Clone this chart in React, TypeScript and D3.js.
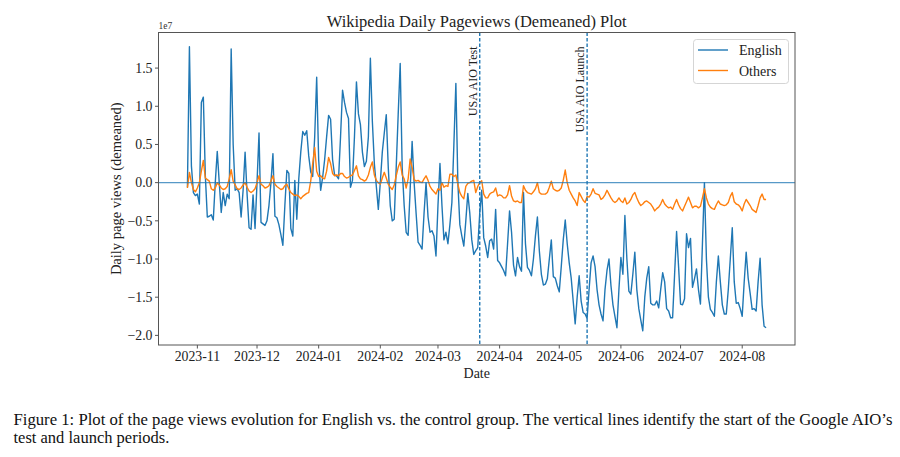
import React from "react";
import * as d3 from "d3";

// ---- DATA (values in millions of page views, demeaned) ----
const START_DATE = new Date(2023, 9, 27);

const english: number[] = [
  -0.6, 17.8, 2.2, -1.3, -1.7, -1.5, -2.8, 10.5, 11.2, 0.9, -4.5, -4.4, -4.2, -4.9, 0, 4.1,
  0, -3.9, -1.3, -3.0, -1.5, -2.1, 17.5, 5, -1.0, -0.8, -1.3, -4.5, -1, 4.0, -1.5, -5.9,
  -6.1, -1.6, -6.0, 0, 6.5, -5.2, -5.4, -5.6, -5.0, -3, 0, 3.8, -4.4, -4.6, -5.5, -6.8,
  -8.2, -3, 1.6, 1.2, -6.0, -7.0, 0.3, -4.8, 0.5, 4, 6.7, 6.2, 6.8, 3.5, 1.4, 0.8,
  6, 13.8, 3, -1.0, 0.7, 3, 6, 8.8, 8.3, 3, 1.0, 0.9, 0.5, 6, 12.1, 10.5,
  9.2, 8.4, -0.6, 0.3, 6, 13.2, 9.0, 7.6, 4, 2.1, 2.8, 6.0, 16.3, 8, 2.5, -0.5,
  -3.5, 0, 4, 6.5, 8.9, 2, -3, -5.0, -4.8, 2, 9, 15.6, 2, -3, -6.5, -6.9,
  -1, 5.4, 0, -4, -7.8, -8.2, -8.7, -4, 0, -4.5, -6.5, -6.3, -7.0, -9.6, -3, 2.5,
  -3, -7.5, -6.5, -8.0, -5.5, -2.6, 5, 13.0, 0, -5.5, -7, -8.3, -5, -1.4, -4, -7.5,
  -9.4, -8.9, -8.5, -4, -1.0, -7.2, -8.3, -9.8, -7.6, -7.4, -8.7, -3.5, -10.2, -10.5, -11.0, -11.5,
  -12.2, -8, -3.7, -6.5, -10.8, -12.2, -9.8, -11, -11.6, -1.3, -8, -11.1, -11.5, -12.2, -10, -7,
  -4.5, -9, -12, -13.4, -13.3, -12.6, -10, -7.5, -12.3, -12.5, -13.5, -14.3, -11, -7.5, -4.9, -8,
  -10.5, -12.5, -15.5, -18.5, -15, -12.2, -15.5, -17.0, -17.2, -17.8, -14, -10.5, -9.6, -11, -14, -16,
  -17.2, -18.1, -14, -11.5, -10.0, -13.5, -16, -17.5, -19.0, -14, -9.8, -12, -4.3, -10, -14.2, -14.6,
  -12, -9.1, -14, -16.5, -18, -19.4, -15, -12.5, -11.0, -15.8, -16.0, -16.0, -15.5, -16.4, -14, -11.8,
  -13, -16.5, -16.8, -17.7, -17.7, -12, -6.4, -11, -15.9, -16, -15.2, -6.7, -8.5, -7.3, -13.7, -12.6,
  -11.3, -14, -15.9, -8, 0, -10, -15, -16.6, -17, -17.5, -13, -9.6, -13, -16, -17.2, -17.2,
  -14, -10, -5.9, -13, -15.8, -15.7, -16.5, -17.5, -13, -9.1, -12.5, -14.5, -16.6, -16.5, -16.8, -13,
  -9.9, -16, -18.8, -19.0,
];

const others: number[] = [
  -0.7, 1.35, 0, -0.9, -1.2, -0.7, 0, 1.5, 2.9, 0.6, 0.4, 0.2, -0.8, -1.0, -0.7, 0,
  -0.3, -0.7, -0.9, -0.8, -0.5, 0.5, 1.7, 0.2, -0.3, -0.8, -0.9, -0.7, -0.3, 0, -0.6, -1.1,
  -1.3, -1.1, -0.8, 0, 0.9, -0.2, -0.4, -0.7, -0.6, -0.4, 0.2, 0.9, -0.2, -0.5, -0.7, -0.9,
  -0.8, -0.4, -0.2, -0.8, -1.3, -1.5, -1.7, -1.6, -1.8, -2.1, -1.8, -1.6, -1.4, -1.3, 0.2, 2.5,
  4.6, 1.5, 0.8, 0.9, 0.6, 0.5, 1.5, 3.3, 2.5, 1.2, 0.9, 1.0, 0.9, 1.2, 1.2, 0.8,
  0.6, 0.7, 0.9, 1.0, 1.6, 2.2, 0.9, 0.5, 0.4, 0.2, 0.4, 1.0, 2.0, 2.7, 1.0, 0.3,
  0, -0.2, 0.6, 1.35, 0.6, -0.2, -0.6, -0.9, -0.3, 0.9, 2.0, 2.7, 1.0, 0.5, -0.7, 0.5,
  3.1, 2.0, 0.4, 0.2, 0.3, 0.1, 0, 0.5, 0.9, 0.3, -0.5, -0.9, -1.2, -1.5, -0.8, -1.0,
  0, -0.6, -0.4, -0.5, 1.1, 1.1, 0.8, 1.0, -0.2, -1.3, -1.8, -2.1, -0.5, -0.1, 0, 0.2,
  0.3, -1.3, -0.5, 0, 0.25, -1.5, -2.0, -2.0, -1.5, -1.3, -1.2, -0.7, -1.75, -1.6, -1.7, -2.0,
  -2.0, -1.6, -0.4, -1.75, -2.4, -2.5, -2.4, -2.6, -2.6, -0.4, -1.0, -1.3, -1.4, -1.5, -1.2, -0.8,
  0, -1.3, -1.5, -1.5, -1.5, -1.3, -0.6, 0.2, -0.8, -1.0, -1.1, -1.0, -0.7, 0.3, 1.65, 0,
  -1.0, -1.5, -2.0, -2.4, -3.0, -1.3, -1.8, -2.3, -2.6, -1.8, -1.9, -1.5, -0.8, -1.4, -1.5, -1.6,
  -2.2, -2.0, -1.6, -1.0, -1.5, -2.0, -2.4, -2.6, -2.4, -2.0, -2.4, -2.6, -2.0, -2.8, -2.6, -2.2,
  -1.6, -1.3, -2.0, -2.6, -3.0, -2.8, -2.5, -2.4, -2.6, -2.8, -3.2, -3.7, -3.4, -3.2, -2.8, -2.2,
  -2.8, -3.1, -3.3, -3.2, -3.5, -2.8, -2.2, -2.9, -3.4, -3.7, -3.1, -2.5, -1.9, -2.6, -3.3, -3.1,
  -3.1, -3.3, -3.1, -2.0, -0.8, -2.0, -2.8, -3.2, -3.4, -3.5, -2.9, -2.4, -2.8, -2.9, -3.0, -2.9,
  -2.6, -1.8, -1.3, -2.5, -2.8, -2.9, -3.2, -3.7, -2.8, -2.2, -2.6, -3.0, -3.5, -3.7, -3.9, -3.0,
  -2.0, -1.5, -2.2, -2.2,
];

const eventDates = [new Date(2024, 2, 22), new Date(2024, 4, 15)];
const eventLabels = ["USA AIO Test", "USA AIO Launch"];
const yTickValues = [-20, -15, -10, -5, 0, 5, 10, 15]; // millions; labelled in units of 1e7
const seriesNames = ["English", "Others"];
const seriesColors = ["#1f77b4", "#ff7f0e"];

const TITLE = "Wikipedia Daily Pageviews (Demeaned) Plot";
const Y_LABEL = "Daily page views (demeaned)";
const X_LABEL = "Date";
const CAPTION_1 =
  "Figure 1: Plot of the page views evolution for English vs. the control group. The vertical lines identify the start of the Google AIO\u2019s";
const CAPTION_2 = "test and launch periods.";

const FONT = "'Liberation Serif', 'DejaVu Serif', 'Times New Roman', serif";

export default function App() {
  const W = 900;
  const H = 457;
  const L = 158.5, R = 795, T = 32.5, B = 345;

  const dates = english.map((_, i) => d3.timeDay.offset(START_DATE, i));
  const first = dates[0].getTime();
  const last = dates[dates.length - 1].getTime();
  const span = last - first;
  const x = d3
    .scaleTime()
    .domain([new Date(first - 0.05 * span), new Date(last + 0.05 * span)])
    .range([L, R]);

  const all = english.concat(others);
  const mn = d3.min(all) as number;
  const mx = d3.max(all) as number;
  const rg = mx - mn;
  const y = d3.scaleLinear().domain([mn - 0.05 * rg, mx + 0.05 * rg]).range([B, T]);

  const line = d3
    .line<number>()
    .x((_, i) => x(dates[i]))
    .y((d) => y(d));

  const xTicks = x.ticks(d3.timeMonth.every(1) as d3.TimeInterval);
  const fmt = d3.timeFormat("%Y-%m");
  const fmtY = (v: number) => {
    const s = (Math.abs(v) / 10).toFixed(1);
    return v < 0 ? "\u2212" + s : s;
  };

  const axisColor = "#555";

  return (
    <svg
      width={W}
      height={H}
      style={{ position: "absolute", left: 0, top: 0, background: "#fff" }}
      fontFamily={FONT}
    >
      <rect x={0} y={0} width={W} height={H} fill="#fff" />
      {/* title */}
      <text x={(L + R) / 2} y={27} textAnchor="middle" fontSize={16.5} fill="#222">
        {TITLE}
      </text>
      {/* offset text */}
      <text x={L} y={29} fontSize={9.5} fill="#333">
        1e7
      </text>

      <defs>
        <clipPath id="plotclip">
          <rect x={L} y={T} width={R - L} height={B - T} />
        </clipPath>
      </defs>

      <g clipPath="url(#plotclip)">
        <path d={line(english) || ""} fill="none" stroke={seriesColors[0]} strokeWidth={1.4} strokeLinejoin="round" />
        <path d={line(others) || ""} fill="none" stroke={seriesColors[1]} strokeWidth={1.4} strokeLinejoin="round" />
        <line x1={L} x2={R} y1={y(0)} y2={y(0)} stroke="#1f77b4" strokeOpacity={0.75} strokeWidth={1.1} />
        {eventDates.map((d, i) => (
          <line
            key={i}
            x1={x(d)}
            x2={x(d)}
            y1={T}
            y2={B}
            stroke="#1f77b4"
            strokeWidth={1.4}
            strokeDasharray="3.5,2"
          />
        ))}
      </g>

      {eventDates.map((d, i) => (
        <text
          key={i}
          transform={`translate(${x(d) - 3},${T + 14}) rotate(-90)`}
          textAnchor="end"
          fontSize={12}
          fill="#222"
        >
          {eventLabels[i]}
        </text>
      ))}

      {/* frame */}
      <rect x={L} y={T} width={R - L} height={B - T} fill="none" stroke={axisColor} strokeWidth={1} />

      {/* x axis */}
      {xTicks.map((t, i) => (
        <g key={i}>
          <line x1={x(t)} x2={x(t)} y1={B} y2={B + 3.5} stroke={axisColor} strokeWidth={1} />
          <text x={x(t)} y={B + 16} textAnchor="middle" fontSize={13.8} fill="#222">
            {fmt(t)}
          </text>
        </g>
      ))}
      <text x={(L + R) / 2} y={378} textAnchor="middle" fontSize={14} fill="#222">
        {X_LABEL}
      </text>

      {/* y axis */}
      {yTickValues.map((v, i) => (
        <g key={i}>
          <line x1={L - 3.5} x2={L} y1={y(v)} y2={y(v)} stroke={axisColor} strokeWidth={1} />
          <text x={L - 6} y={y(v) + 4.7} textAnchor="end" fontSize={13.8} fill="#222">
            {fmtY(v)}
          </text>
        </g>
      ))}
      <text
        transform={`translate(121,${(T + B) / 2}) rotate(-90)`}
        textAnchor="middle"
        fontSize={14.5}
        fill="#222"
      >
        {Y_LABEL}
      </text>

      {/* legend */}
      <rect x={693.5} y={39.5} width={95} height={44} rx={3} fill="#fff" fillOpacity={0.85} stroke="#d5d5d5" />
      {seriesNames.map((n, i) => (
        <g key={n}>
          <line x1={698} x2={728} y1={50 + i * 20.5} y2={50 + i * 20.5} stroke={seriesColors[i]} strokeWidth={1.4} />
          <text x={739} y={55 + i * 20.5} fontSize={14} fill="#222">
            {n}
          </text>
        </g>
      ))}

      {/* caption */}
      <text x={13.5} y={424.5} fontSize={16.5} fill="#111" textLength={879} lengthAdjust="spacingAndGlyphs">
        {CAPTION_1}
      </text>
      <text x={13.5} y={443} fontSize={16.5} fill="#111">
        {CAPTION_2}
      </text>
    </svg>
  );
}
